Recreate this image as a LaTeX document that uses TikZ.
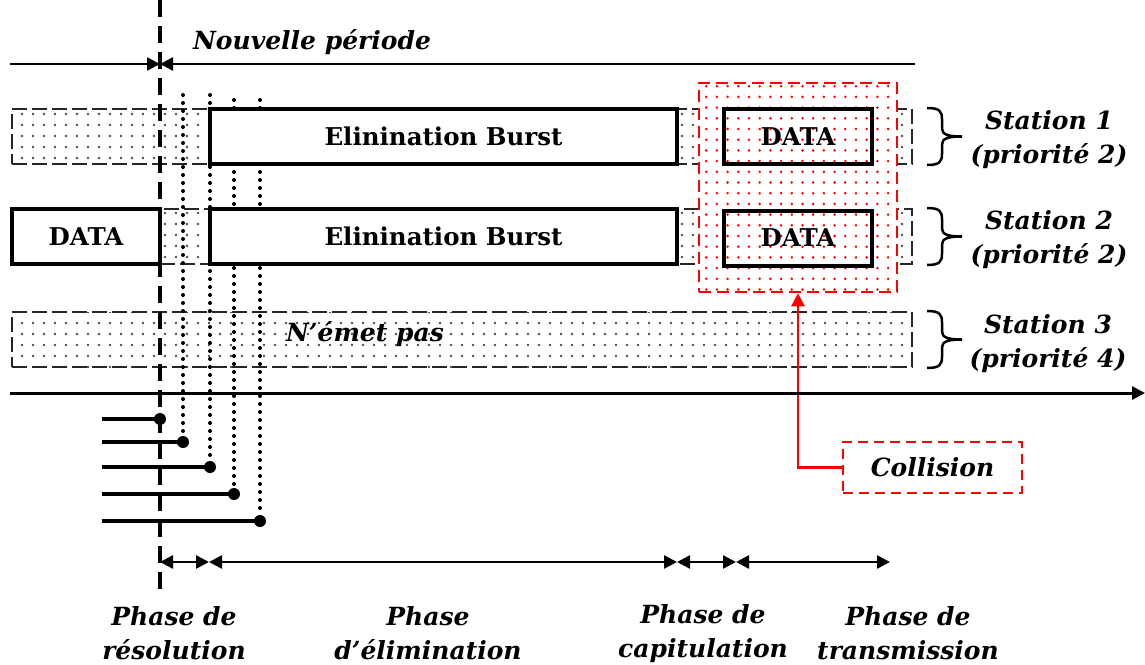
\documentclass[tikz,border=0pt]{standalone}
\usepackage{fontspec}
\setmainfont{DejaVu Serif}
\usetikzlibrary{arrows.meta,patterns.meta}

\tikzset{
  lbl/.style={font=\fontsize{25}{34}\selectfont\bfseries\itshape, align=center, inner sep=0pt},
  boxtxt/.style={font=\fontsize{24.5}{28}\selectfont\bfseries},
  idle/.style={draw=black!85, line width=1.5pt, dash pattern=on 15pt off 5pt,
    pattern={Dots[distance=11pt,radius=1.3pt]}, pattern color=black!70,
    inner sep=0pt, minimum height=55pt},
  solidbox/.style={draw, line width=4pt, inner sep=0pt, minimum height=55pt},
  burst/.style={solidbox, fill=white},
  redzone/.style={draw=red, line width=2.5pt, dash pattern=on 12pt off 6pt,
    preaction={fill=white}, pattern={Dots[distance=10.7pt,radius=1.4pt]}, pattern color=red,
    inner sep=0pt},
  callout/.style={draw=red, line width=2.5pt, dash pattern=on 10pt off 6pt, fill=white, inner sep=0pt},
  dotline/.style={line width=4pt, line cap=round, dash pattern=on 0pt off 8pt},
  endpt/.style={circle, fill=black, inner sep=0pt, minimum size=12pt},
  tip/.style={-{Triangle[length=13pt,width=13pt]}},
  bothtips/.style={{Triangle[length=13pt,width=13pt]}-{Triangle[length=13pt,width=13pt]}},
  pics/sbrace/.style={code={
    \draw[line width=2.5pt]
      (0,-28.5) .. controls (13,-28.5) and (15,-25) .. (15,-17) -- (15,-8)
      .. controls (15,-2) and (21,0) .. (35,0)
      .. controls (21,0) and (15,2) .. (15,8) -- (15,17)
      .. controls (15,25) and (13,28.5) .. (0,28.5);
  }}
}

\begin{document}
\begin{tikzpicture}[x=1pt,y=-1pt]
  \path[use as bounding box] (0,0) rectangle (1145,664);

  % idle (dotted) slots of each station
  \node[idle, minimum width=900pt] (idle1) at (462,136.5) {};
  \node[idle, minimum width=752pt] (idle2) at (536,236.5) {};
  \node[idle, minimum width=900pt] (idle3) at (462,339.5) {};
  \node[lbl] (silent) at (365,334) {N’émet pas};

  % priority slots counted during the resolution phase
  \coordinate (s0) at (102,419);
  \coordinate (s1) at (102,442);
  \coordinate (s2) at (102,467);
  \coordinate (s3) at (102,494);
  \coordinate (s4) at (102,521);
  \node[endpt] (e0) at (160,419) {};
  \node[endpt] (e1) at (183,442) {};
  \node[endpt] (e2) at (210,467) {};
  \node[endpt] (e3) at (234,494) {};
  \node[endpt] (e4) at (260,521) {};
  \coordinate (t1) at (183,95);
  \coordinate (t2) at (210,95);
  \coordinate (t3) at (234,100);
  \coordinate (t4) at (260,100);
  \draw[dotline] (t1) -- (e1.north);
  \draw[dotline] (t2) -- (e2.north);
  \draw[dotline] (t3) -- (e3.north);
  \draw[dotline] (t4) -- (e4.north);
  \foreach \i in {0,...,4} \draw[line width=3.5pt] (s\i) -- (e\i.center);

  % elimination bursts and frames
  \node[burst, minimum width=467pt] (burst1) at (443.5,136.5) {};
  \node[boxtxt] at (burst1) {Elinination Burst};
  \node[burst, minimum width=467pt] (burst2) at (443.5,236.5) {};
  \node[boxtxt] at (burst2) {Elinination Burst};
  \node[burst, minimum width=148pt] (data0) at (86,236.5) {};
  \node[boxtxt] at (data0) {DATA};

  % colliding transmissions
  \node[redzone, minimum width=198pt, minimum height=209pt] (redbox) at (798,187.5) {};
  \node[solidbox, minimum width=148pt] (data1) at (798,136.5) {};
  \node[boxtxt] at (data1) {DATA};
  \node[solidbox, minimum width=148pt] (data2) at (798,238) {};
  \node[boxtxt] at (data2) {DATA};

  \node[callout, minimum width=179pt, minimum height=51pt] (coll) at (932.5,467.5) {};
  \node[lbl] at (coll) {Collision};
  \draw[red, line width=2.5pt, tip] (coll.west) -| (redbox.south);

  % start of the new period
  \coordinate (vtop) at (160,0);
  \coordinate (vbot) at (160,590);
  \draw[line width=3.5pt, dash pattern=on 17pt off 9pt] (vtop) -- (vbot);
  \coordinate (tl) at (10,64);
  \coordinate (tr) at (915,64);
  \coordinate (tm) at (160,64);
  \draw[line width=2.5pt, tip] (tl) -- (tm);
  \draw[line width=2.5pt, tip] (tr) -- (tm);
  \node[lbl] (period) at (312,42) {Nouvelle période};

  % time axis
  \coordinate (ax0) at (10,393);
  \coordinate (ax1) at (1145,393);
  \draw[line width=3pt, tip] (ax0) -- (ax1);

  % station labels
  \pic at (927,136.5) {sbrace};
  \pic at (927,236.5) {sbrace};
  \pic at (927,339.5) {sbrace};
  \node[lbl] (st1) at (1049,139.5) {Station 1\\(priorité 2)};
  \node[lbl] (st2) at (1049,239.5) {Station 2\\(priorité 2)};
  \node[lbl] (st3) at (1048,344) {Station 3\\(priorité 4)};

  % phases
  \coordinate (p0) at (160,562);
  \coordinate (p1) at (209,562);
  \coordinate (p2) at (677,562);
  \coordinate (p3) at (736,562);
  \coordinate (p4) at (890,562);
  \draw[line width=2.5pt, bothtips] (p0) -- (p1);
  \draw[line width=2.5pt, bothtips] (p1) -- (p2);
  \draw[line width=2.5pt, bothtips] (p2) -- (p3);
  \draw[line width=2.5pt, bothtips] (p3) -- (p4);
  \node[lbl] (ph1) at (174,633.5) {Phase de\\résolution};
  \node[lbl] (ph2) at (428,633.5) {Phase\\d’élimination};
  \node[lbl] (ph3) at (703,633.5) {Phase de\\capitulation};
  \node[lbl] (ph4) at (908,633.5) {Phase de\\transmission};
\end{tikzpicture}
\end{document}
